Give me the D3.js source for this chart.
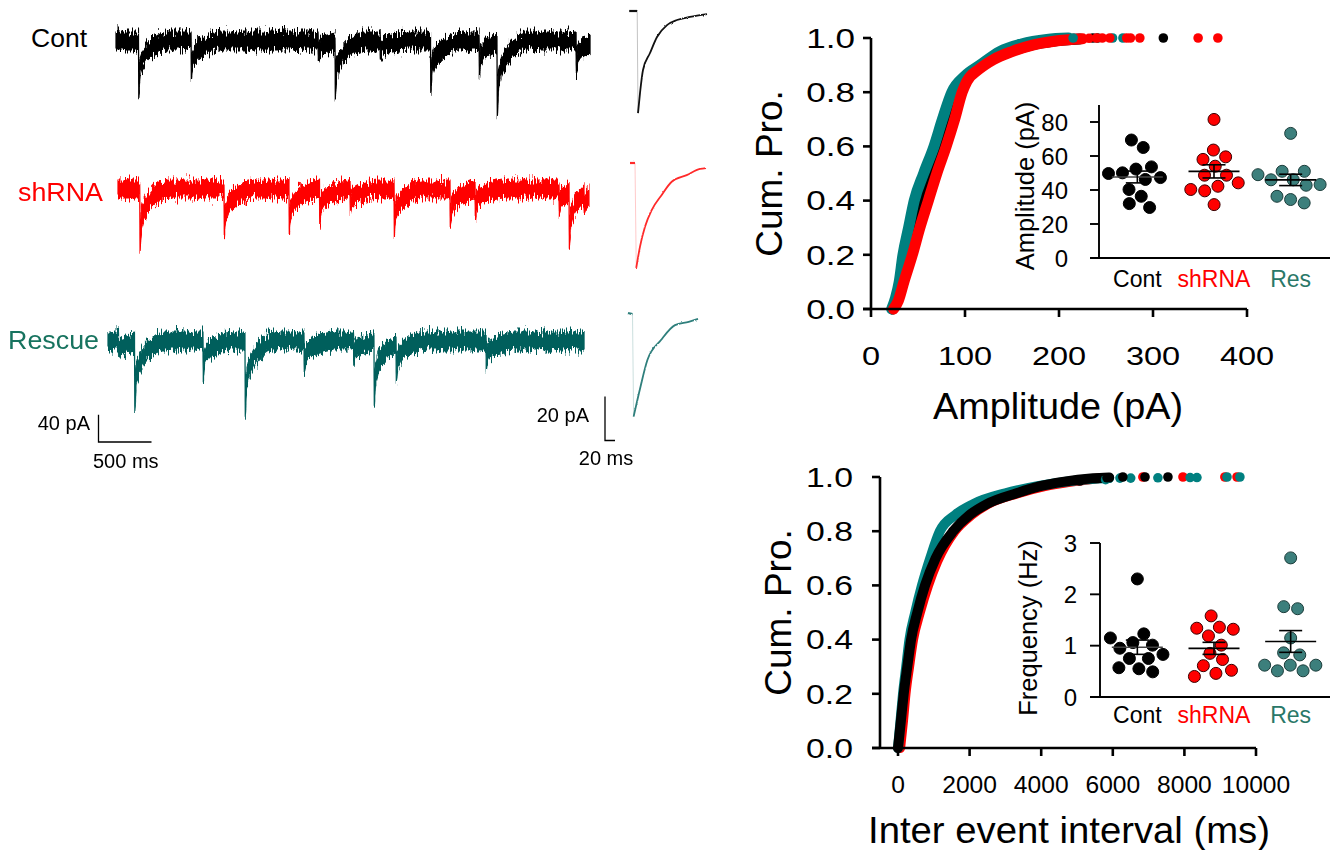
<!DOCTYPE html>
<html><head><meta charset="utf-8">
<script src="https://cdn.jsdelivr.net/npm/d3@7"></script>
<style>body{margin:0;background:#fff} text{font-family:"Liberation Sans",Arial,sans-serif}</style>
</head><body><svg id="c" width="1333" height="850">
<defs>
  <filter id="jag" filterUnits="userSpaceOnUse" x="0" y="0" width="720" height="480" color-interpolation-filters="sRGB">
    <feTurbulence type="fractalNoise" baseFrequency="0.75 0.09" numOctaves="2" seed="7" result="n"/>
    <feColorMatrix in="n" type="matrix" values="0 0 0 0 0.5  0 1 0 0 0  0 0 0 0 0  0 0 0 0 1" result="m"/>
    <feDisplacementMap in="SourceGraphic" in2="m" scale="20" xChannelSelector="R" yChannelSelector="G"/>
  </filter>
  <filter id="jag2" filterUnits="userSpaceOnUse" x="600" y="0" width="130" height="480" color-interpolation-filters="sRGB">
    <feTurbulence type="fractalNoise" baseFrequency="0.9 0.3" numOctaves="1" seed="3" result="n"/>
    <feColorMatrix in="n" type="matrix" values="0 0 0 0 0.5  0 1 0 0 0  0 0 0 0 0  0 0 0 0 1" result="m"/>
    <feDisplacementMap in="SourceGraphic" in2="m" scale="2.5" xChannelSelector="R" yChannelSelector="G"/>
  </filter>
</defs>
</svg>
<script>
// ---------------- DATA ----------------
const groups = ["Cont", "shRNA", "Res"];
// inset: amplitude per cell (pA)
const ampCont = [69.4, 65.0, 53.6, 52.3, 50.1, 49.7, 47.3, 46.2, 40.3, 36.3, 32.0, 29.7];
const ampSh   = [81.5, 63.5, 59.5, 58.0, 54.0, 48.7, 48.7, 44.2, 42.2, 40.3, 39.5, 31.4];
const ampRes  = [73.3, 51.0, 51.0, 49.0, 46.0, 46.0, 43.2, 42.8, 36.3, 34.4, 32.4];
// inset: frequency per cell (Hz)
const freqCont = [2.30, 1.23, 1.15, 1.06, 1.01, 0.95, 0.83, 0.75, 0.75, 0.57, 0.55, 0.49];
const freqSh   = [1.58, 1.36, 1.34, 1.32, 1.19, 1.01, 0.85, 0.73, 0.61, 0.52, 0.46, 0.40];
const freqRes  = [2.71, 1.76, 1.72, 1.15, 0.86, 0.82, 0.62, 0.62, 0.62, 0.51, 0.51];
const ampTicksInset = [0, 20, 40, 60, 80];
const freqTicksInset = [0, 1, 2, 3];

// cumulative amplitude [pA, cum. prob]
const cumAmpCont = [[23,0],[28,0.04],[33,0.1],[41,0.2],[48,0.3],[57,0.4],[66,0.5],[76,0.6],[85,0.7],[93,0.8],[99,0.84],[113,0.885],[128,0.92],[148,0.95],[170,0.974],[193,0.988],[222,0.996]];
const cumAmpSh   = [[24,0],[29,0.03],[35,0.1],[44,0.2],[52,0.3],[61,0.4],[70,0.5],[80,0.6],[89,0.7],[97,0.8],[102,0.84],[115,0.885],[130,0.92],[150,0.95],[172,0.974],[195,0.988],[225,0.997]];
const cumAmpRes  = [[22,0],[26,0.04],[30,0.1],[34,0.2],[40,0.3],[46,0.4],[56,0.5],[67,0.6],[76,0.7],[86,0.8],[100,0.86],[116,0.9],[137,0.95],[160,0.978],[187,0.995],[210,1.0]];
const tailAmpCont = [[236,1],[241,1],[311,1]];
const tailAmpSh   = [[232,0.999],[240,1],[246,1],[254,1],[272,1],[276,1],[286,1],[348,1],[369,1]];
const tailAmpRes  = [[215,1],[257,1],[268,1]];
const ampTicks = [0, 100, 200, 300, 400];

// cumulative inter-event interval [ms, cum. prob]
const cumIeiCont = [[0,0],[80,0.1],[160,0.2],[260,0.3],[365,0.4],[540,0.5],[755,0.6],[1050,0.7],[1540,0.8],[2000,0.86],[2480,0.9],[3310,0.94],[3970,0.966],[4600,0.982],[5450,0.995],[5900,0.998]];
const cumIeiSh   = [[60,0],[140,0.1],[210,0.2],[310,0.3],[420,0.4],[610,0.5],[840,0.6],[1100,0.69],[1580,0.8],[2050,0.86],[2500,0.9],[3350,0.94],[4100,0.966],[4800,0.982],[5600,0.995]];
const cumIeiRes  = [[0,0],[70,0.1],[140,0.2],[230,0.3],[320,0.4],[480,0.5],[670,0.6],[900,0.7],[1170,0.8],[1600,0.86],[2100,0.9],[3000,0.94],[3900,0.966],[4700,0.983],[5600,0.994],[5900,0.996]];
const tailIeiCont = [[5080,0.985],[5840,0.997],[6280,1],[6900,1],[7540,1]];
const tailIeiSh   = [[6840,1],[7960,1],[9130,1],[9470,1]];
const tailIeiRes  = [[5800,0.99],[6200,0.996],[6500,0.996],[7260,0.997],[8160,0.998],[8350,0.998],[9190,1],[9550,1]];
const ieiTicks = [0, 2000, 4000, 6000, 8000, 10000];
const cumTicks = [0, 0.2, 0.4, 0.6, 0.8, 1.0];

// raw traces: event onset (ms) and amplitude (pA)
const contEvT = [212, 708, 1906, 2066, 2491, 2967, 3425, 3594, 4340];
const contEvA = [68, 47, 19, 71, 17, 66, 40, 97, 38];
const shEvT = [205, 1000, 1613, 1901, 2189, 2604, 3132, 3368, 4160, 4255, 4396];
const shEvA = [82, 59, 56, 41, 26, 56, 48, 31, 26, 69, 19];
const resEvT = [99, 250, 896, 1292, 1849, 2316, 2509, 2717, 3566];
const resEvA = [16, 88, 46, 101, 38, 23, 85, 46, 32];
const traceDur = [4472, 4443, 4491];
// event waveform [ms after onset, fraction of peak]
const eventShape = [[0,0],[3,1],[15,0.55],[40,0.38],[80,0.25],[130,0.14],[200,0.05],[260,0]];
// averaged events [ms, pA]
const avgCont = [[-17,0],[-1,0],[0.6,-46.4],[4.6,-37.3],[10.6,-26.8],[24.6,-19.1],[38.6,-11.8],[58.6,-6.4],[78.6,-4.1],[104.6,-2.7],[138.6,-1.4]];
const avgSh   = [[-12,0],[-2,0],[0.5,-47.7],[8,-38],[18,-29],[31.4,-21.4],[51.4,-14.5],[71.4,-8.5],[101.4,-5.5],[128,-2.7],[140,-2.3]];
const avgRes  = [[-10,0],[-1,-0.5],[1.2,-47.1],[15,-33.5],[28.8,-21.4],[56,-12.3],[84,-5.5],[111.4,-4],[130,-2.7]];

// ---------------- DRAW ----------------
const svg = d3.select("#c");
const COL = {cont: "#000000", sh: "#ff0000", resTrace: "#005f5c", resLabel: "#17735f", resCum: "#008080", resDot: "#3c7f7c", resCat: "#2a7868"};

function txt(sel, x, y, s, size, o = {}) {
  let tr = `translate(${x},${y})`;
  if (o.rot) tr += ` rotate(${o.rot})`;
  if (o.sx) tr += ` scale(${o.sx},1)`;
  const t = sel.append("text").attr("transform", tr).attr("font-size", size)
    .attr("text-anchor", o.anchor || "start").attr("fill", o.fill || "#000").text(s);
  if (o.dy) t.attr("dy", o.dy);
  if (o.len) t.attr("textLength", o.len).attr("lengthAdjust", "spacingAndGlyphs");
  return t;
}
function ln(sel, x1, y1, x2, y2, w, c = "#000") {
  return sel.append("line").attr("x1", x1).attr("y1", y1).attr("x2", x2).attr("y2", y2)
    .attr("stroke", c).attr("stroke-width", w);
}

// ---- traces ----
const xTr = d3.scaleLinear().domain([0, 500]).range([0, 53]);
const yTr = d3.scaleLinear().domain([0, -40]).range([0, 27.2]);
const half = 9;
function shapeAt(dt) {
  if (dt < 0 || dt > eventShape[eventShape.length - 1][0]) return 0;
  for (let i = 1; i < eventShape.length; i++) {
    const [t0, f0] = eventShape[i - 1], [t1, f1] = eventShape[i];
    if (dt <= t1) return f0 + (f1 - f0) * (dt - t0) / (t1 - t0);
  }
  return 0;
}
const traceLayer = svg.append("g").attr("filter", "url(#jag)");
function drawTrace(x0, yb, evT, evA, dur, color) {
  const ts = new Set([0, dur]);
  evT.forEach(te => eventShape.forEach(([t]) => { if (te + t <= dur) ts.add(te + t); }));
  const times = Array.from(ts).sort((a, b) => a - b);
  const pts = times.map(t => [t, -d3.sum(evT, (te, i) => evA[i] * shapeAt(t - te))]);
  const g = traceLayer.append("g").attr("transform", `translate(${x0},${yb})`);
  g.append("path").datum(pts)
    .attr("d", d3.area().x(d => xTr(d[0])).y0(d => yTr(d[1]) - half).y1(d => yTr(d[1]) + half))
    .attr("fill", color).attr("stroke", color).attr("stroke-width", 1.2);
}
drawTrace(116, 41, contEvT, contEvA, traceDur[0], COL.cont);
drawTrace(118, 189, shEvT, shEvA, traceDur[1], COL.sh);
drawTrace(108, 341, resEvT, resEvA, traceDur[2], COL.resTrace);

txt(svg, 31, 47, "Cont", 26, {len: 56});
txt(svg, 18, 201, "shRNA", 26, {fill: COL.sh, len: 85});
txt(svg, 8, 349, "Rescue", 26, {fill: COL.resLabel, len: 91});

// trace scale bar
{
  const g = svg.append("g").attr("transform", "translate(98.5,442)");
  g.append("path").attr("d", `M0,${-yTr(-40)}V0H${xTr(500)}`).attr("fill", "none").attr("stroke", "#000").attr("stroke-width", 1.3);
  txt(svg, 90, 430, "40 pA", 20, {anchor: "end"});
  txt(svg, 93, 468, "500 ms", 20);
}

// averaged events
const xAv = d3.scaleLinear().domain([0, 20]).range([0, 10]);
const yAv = d3.scaleLinear().domain([0, -20]).range([0, 44]);
const avgLayer = svg.append("g").attr("filter", "url(#jag2)");
function drawAvg(x0, y0, pts, color) {
  const g = avgLayer.append("g").attr("transform", `translate(${x0},${y0})`);
  const line = d3.line().x(d => xAv(d[0])).y(d => yAv(d[1]));
  g.append("path").datum(pts.slice(0, 2)).attr("d", line).attr("fill", "none").attr("stroke", color).attr("stroke-width", 2.2);
  g.append("path").datum(pts.slice(1, 3)).attr("d", line).attr("fill", "none").attr("stroke", color).attr("stroke-width", 1).attr("stroke-opacity", 0.25);
  g.append("path").datum(pts.slice(2)).attr("d", line.curve(d3.curveMonotoneX)).attr("fill", "none").attr("stroke", color).attr("stroke-width", 1.8);
}
drawAvg(637.7, 11, avgCont, "#111");
drawAvg(636, 163, avgSh, "#ff2a2a");
drawAvg(633, 313, avgRes, "#2f7f7c");
{
  const g = svg.append("g").attr("transform", "translate(605,440.5)");
  g.append("path").attr("d", `M0,${-yAv(-20)}V0H${xAv(20)}`).attr("fill", "none").attr("stroke", "#000").attr("stroke-width", 1.3);
  txt(svg, 589, 422, "20 pA", 20, {anchor: "end"});
  txt(svg, 606, 465, "20 ms", 20, {anchor: "middle"});
}

// ---- cumulative panels ----
function cumPanel(o) {
  const g = svg.append("g");
  const {xs, ys} = o;
  const yl = xs.range()[0] - o.xOff; // y-axis x
  const [y0, y1] = ys.range();
  o.series.forEach(s => {
    g.append("path").datum(s.curve)
      .attr("d", d3.line().x(d => xs(d[0])).y(d => ys(d[1])).curve(d3.curveMonotoneX))
      .attr("fill", "none").attr("stroke", s.color).attr("stroke-width", o.lw)
      .attr("stroke-linecap", "round").attr("stroke-linejoin", "round");
  });
  o.series.forEach(s => {
    g.selectAll(null).data(s.tail).enter().append("circle")
      .attr("cx", d => xs(d[0])).attr("cy", d => ys(d[1])).attr("r", 4.8).attr("fill", s.color);
  });
  ln(g, yl, y1, yl, y0, 2.6);
  ln(g, yl - 8, y0, xs.range()[1], y0, 2.6);
  cumTicks.forEach(v => {
    ln(g, yl - 8, ys(v), yl, ys(v), 2.6);
    txt(g, o.yLabRight, ys(v), v.toFixed(1), o.yFont, {anchor: "end", sx: o.ySx, dy: "0.36em"});
  });
  o.xTicks.forEach(v => {
    ln(g, xs(v), y0, xs(v), y0 + 8, 2.6);
    txt(g, xs(v), o.xLabBase, String(v), o.xFont, {anchor: "middle", sx: o.xSx});
  });
  txt(g, o.yTitleX, (y0 + y1) / 2, "Cum. Pro.", 37, {anchor: "middle", rot: -90});
  txt(g, o.xTitleCx, o.xTitleBase, o.xTitle, o.xTitleFont, {anchor: "middle", len: o.xTitleLen});
}

cumPanel({
  xs: d3.scaleLinear().domain([0, 400]).range([871, 1247]), xOff: 0,
  ys: d3.scaleLinear().domain([0, 1]).range([309, 38]),
  lw: 11,
  series: [
    {curve: cumAmpCont, tail: tailAmpCont, color: "#000"},
    {curve: cumAmpRes, tail: tailAmpRes, color: COL.resCum},
    {curve: cumAmpSh, tail: tailAmpSh, color: COL.sh}
  ],
  xTicks: ampTicks, yLabRight: 855, yFont: 27, ySx: 1.3, xLabBase: 365, xFont: 25, xSx: 1.3,
  yTitleX: 782, xTitleCx: 1058, xTitleBase: 419, xTitle: "Amplitude (pA)", xTitleFont: 37, xTitleLen: 250
});
cumPanel({
  xs: d3.scaleLinear().domain([0, 10000]).range([898, 1256]), xOff: 18,
  ys: d3.scaleLinear().domain([0, 1]).range([748, 477]),
  lw: 10,
  series: [
    {curve: cumIeiSh, tail: tailIeiSh, color: COL.sh},
    {curve: cumIeiRes, tail: tailIeiRes, color: COL.resCum},
    {curve: cumIeiCont, tail: tailIeiCont, color: "#000"}
  ],
  xTicks: ieiTicks, yLabRight: 853, yFont: 27, ySx: 1.25, xLabBase: 793, xFont: 23, xSx: 1.07,
  yTitleX: 791, xTitleCx: 1069, xTitleBase: 843, xTitle: "Inter event interval (ms)", xTitleFont: 36, xTitleLen: 402
});

// ---- insets ----
const xCat = d3.scalePoint().domain(groups).range([1099, 1329]).padding(0.5);
const dotStyle = [
  {fill: "#000", stroke: "#000"},
  {fill: "#ff0000", stroke: "#3a0000"},
  {fill: COL.resDot, stroke: "#1c3d3b"}
];
const catColors = ["#000", "#ff0000", COL.resCat];
function inset(o) {
  const g = svg.append("g");
  const ys = o.ys;
  const [y0, y1] = ys.range();
  ln(g, o.ax, y1, o.ax, y0, 1.9);
  ln(g, 1090, y0, 1330, y0, 1.9);
  o.ticks.forEach(v => {
    ln(g, 1090, ys(v), o.ax, ys(v), 1.9);
    txt(g, o.labRight, ys(v), String(v), 24, {anchor: "end", dy: "0.36em"});
  });
  txt(g, o.titleX, o.titleCy, o.title, 25.5, {anchor: "middle", rot: -90});
  groups.forEach((c, i) => txt(g, xCat(c), o.catBase, c, 23, {anchor: "middle", fill: catColors[i]}));
  o.sets.forEach((vals, i) => {
    const cx = xCat(groups[i]);
    const nodes = vals.map(v => ({x: cx, y: ys(v), fy: ys(v)}));
    const sim = d3.forceSimulation(nodes).force("x", d3.forceX(cx).strength(0.07))
      .force("col", d3.forceCollide(7)).stop();
    for (let k = 0; k < 300; k++) sim.tick();
    g.selectAll(null).data(nodes).enter().append("circle")
      .attr("cx", d => d.x).attr("cy", d => d.fy).attr("r", 6)
      .attr("fill", dotStyle[i].fill).attr("stroke", dotStyle[i].stroke).attr("stroke-width", 1);
    const m = d3.mean(vals), se = d3.deviation(vals) / Math.sqrt(vals.length);
    const mc = i === 0 ? "#444" : "#000";
    ln(g, cx - 25.5, ys(m), cx + 25.5, ys(m), 1.6, mc);
    ln(g, cx, ys(m - se), cx, ys(m + se), 1.6);
    ln(g, cx - 11.5, ys(m + se), cx + 11.5, ys(m + se), 1.6);
    ln(g, cx - 11.5, ys(m - se), cx + 11.5, ys(m - se), 1.6);
  });
}
inset({
  ys: d3.scaleLinear().domain([0, 90]).range([258, 105]), ax: 1099, ticks: ampTicksInset,
  labRight: 1068, title: "Amplitude (pA)", titleX: 1034, titleCy: 186, catBase: 287,
  sets: [ampCont, ampSh, ampRes]
});
inset({
  ys: d3.scaleLinear().domain([0, 3]).range([697, 543]), ax: 1100, ticks: freqTicksInset,
  labRight: 1077, title: "Frequency (Hz)", titleX: 1037, titleCy: 628, catBase: 723,
  sets: [freqCont, freqSh, freqRes]
});
</script></body></html>
